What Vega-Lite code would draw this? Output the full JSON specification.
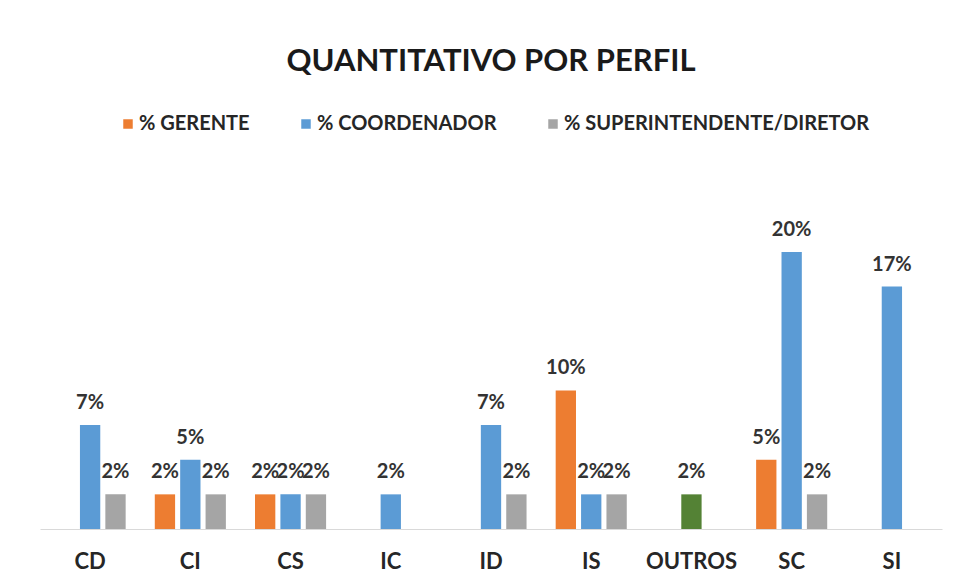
{
  "$schema": "https://vega.github.io/schema/vega-lite/v6.json",
  "width": 902,
  "height": 355,
  "autosize": {"type": "none"},
  "padding": {"left": 40, "top": 174, "right": 13, "bottom": 56},
  "background": "white",
  "title": {
    "text": "QUANTITATIVO POR PERFIL",
    "font": "Lato",
    "fontSize": 31,
    "fontWeight": "bold",
    "color": "#1a1a1a",
    "anchor": "middle",
    "offset": 36
  },
  "config": {
    "view": {"stroke": null},
    "font": "Lato"
  },
  "data": {
    "values": [
      {"perfil": "CD", "serie": "% COORDENADOR", "grupo": "% COORDENADOR", "valor": 0.0732},
      {"perfil": "CD", "serie": "% SUPERINTENDENTE/DIRETOR", "grupo": "% SUPERINTENDENTE/DIRETOR", "valor": 0.0244},
      {"perfil": "CI", "serie": "% GERENTE", "grupo": "% GERENTE", "valor": 0.0244},
      {"perfil": "CI", "serie": "% COORDENADOR", "grupo": "% COORDENADOR", "valor": 0.0488},
      {"perfil": "CI", "serie": "% SUPERINTENDENTE/DIRETOR", "grupo": "% SUPERINTENDENTE/DIRETOR", "valor": 0.0244},
      {"perfil": "CS", "serie": "% GERENTE", "grupo": "% GERENTE", "valor": 0.0244},
      {"perfil": "CS", "serie": "% COORDENADOR", "grupo": "% COORDENADOR", "valor": 0.0244},
      {"perfil": "CS", "serie": "% SUPERINTENDENTE/DIRETOR", "grupo": "% SUPERINTENDENTE/DIRETOR", "valor": 0.0244},
      {"perfil": "IC", "serie": "% COORDENADOR", "grupo": "% COORDENADOR", "valor": 0.0244},
      {"perfil": "ID", "serie": "% COORDENADOR", "grupo": "% COORDENADOR", "valor": 0.0732},
      {"perfil": "ID", "serie": "% SUPERINTENDENTE/DIRETOR", "grupo": "% SUPERINTENDENTE/DIRETOR", "valor": 0.0244},
      {"perfil": "IS", "serie": "% GERENTE", "grupo": "% GERENTE", "valor": 0.0976},
      {"perfil": "IS", "serie": "% COORDENADOR", "grupo": "% COORDENADOR", "valor": 0.0244},
      {"perfil": "IS", "serie": "% SUPERINTENDENTE/DIRETOR", "grupo": "% SUPERINTENDENTE/DIRETOR", "valor": 0.0244},
      {"perfil": "OUTROS", "serie": "% COORDENADOR", "grupo": "% OUTROS", "valor": 0.0244},
      {"perfil": "SC", "serie": "% GERENTE", "grupo": "% GERENTE", "valor": 0.0488},
      {"perfil": "SC", "serie": "% COORDENADOR", "grupo": "% COORDENADOR", "valor": 0.1951},
      {"perfil": "SC", "serie": "% SUPERINTENDENTE/DIRETOR", "grupo": "% SUPERINTENDENTE/DIRETOR", "valor": 0.0244},
      {"perfil": "SI", "serie": "% COORDENADOR", "grupo": "% COORDENADOR", "valor": 0.1707}
    ]
  },
  "encoding": {
    "x": {
      "field": "perfil",
      "type": "nominal",
      "sort": ["CD", "CI", "CS", "IC", "ID", "IS", "OUTROS", "SC", "SI"],
      "scale": {"paddingInner": 0.24, "paddingOuter": 0.12},
      "axis": {
        "title": null,
        "labelAngle": 0,
        "ticks": false,
        "domainColor": "#d9d9d9",
        "domainWidth": 1,
        "labelFont": "Lato",
        "labelFontSize": 22,
        "labelFontWeight": "bold",
        "labelColor": "#262626",
        "labelPadding": 22
      }
    },
    "xOffset": {
      "field": "serie",
      "type": "nominal",
      "sort": ["% GERENTE", "% COORDENADOR", "% SUPERINTENDENTE/DIRETOR"],
      "scale": {"domain": ["% GERENTE", "% COORDENADOR", "% SUPERINTENDENTE/DIRETOR"], "paddingInner": 0.2, "paddingOuter": 0.1}
    },
    "y": {
      "field": "valor",
      "type": "quantitative",
      "scale": {"domain": [0, 0.25], "nice": false},
      "axis": null
    }
  },
  "layer": [
    {
      "mark": {"type": "bar"},
      "encoding": {
        "color": {
          "field": "grupo",
          "type": "nominal",
          "scale": {
            "domain": ["% GERENTE", "% COORDENADOR", "% SUPERINTENDENTE/DIRETOR", "% OUTROS"],
            "range": ["#ED7D31", "#5B9BD5", "#A5A5A5", "#548235"]
          },
          "legend": {
            "values": ["% GERENTE", "% COORDENADOR", "% SUPERINTENDENTE/DIRETOR"],
            "title": null,
            "orient": "none",
            "direction": "horizontal",
            "legendX": 78,
            "legendY": -60,
            "symbolType": "square",
            "symbolSize": 90,
            "symbolStrokeWidth": 0,
            "labelFont": "Lato",
            "labelFontSize": 20,
            "labelFontWeight": "bold",
            "labelColor": "#262626",
            "labelOffset": 1,
            "columnPadding": 46,
            "labelLimit": 400
          }
        }
      }
    },
    {
      "mark": {
        "type": "text",
        "baseline": "bottom",
        "dy": -12,
        "font": "Lato",
        "fontSize": 20,
        "fontWeight": "bold",
        "color": "#333333"
      },
      "encoding": {
        "text": {"field": "valor", "type": "quantitative", "format": ".0%"}
      }
    }
  ]
}
